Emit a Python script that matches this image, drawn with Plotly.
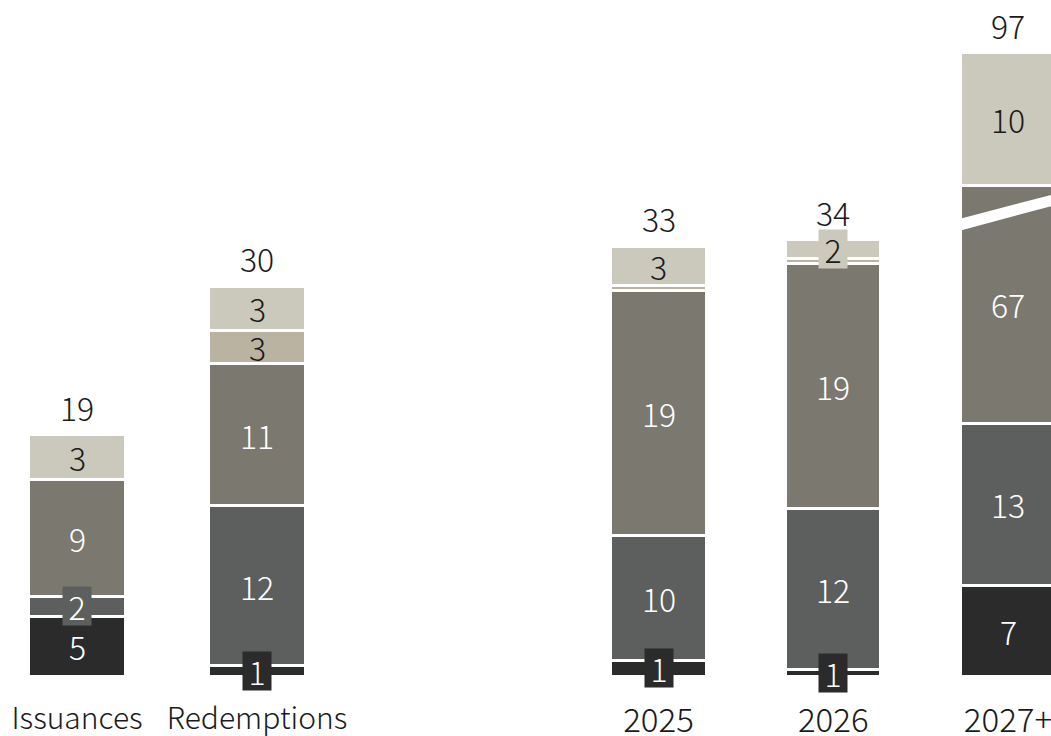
import plotly.graph_objects as go

# ---------------- data ----------------
categories = ["Issuances", "Redemptions", "2025", "2026", "2027+"]
left_cats = categories[:2]
right_cats = categories[2:]

series_names = ["s1", "s2", "s3", "s4", "s5"]
dark_values = [4.6, 0.8, 1.2, 0.5, 7.0]
darkgrey_values = [1.6, 12.4, 9.7, 12.5, 12.6]
mid_values = [9.0, 11.0, 19.0, 19.0, 67.0]
tan_values = [0.0, 2.6, 0.4, 0.4, 0.0]
beige_values = [3.5, 3.4, 3.0, 1.4, 10.3]

dark_labels = ["5", "1", "1", "1", "7"]
darkgrey_labels = ["2", "12", "10", "12", "13"]
mid_labels = ["9", "11", "19", "19", "67"]
tan_labels = ["", "3", "", "", ""]
beige_labels = ["3", "3", "3", "2", "10"]

total_labels = ["19", "30", "33", "34", "97"]

# axis break on the 2027+ bar (mid segment shown shortened)
BROKEN_CATEGORY = "2027+"
BROKEN_DISPLAY_HEIGHT = 18.4

# ---------------- style ----------------
colors = ["#2b2b2b", "#5d5f5e", "#7b7870", "#bab3a1", "#cbc9bc"]
text_colors = ["#ffffff", "#ffffff", "#ffffff", "#1a1a1a", "#1a1a1a"]
FONT = "Noto Sans CJK KR, Noto Sans, sans-serif"
FW = 300
FS = 32
W, H = 1051, 736
PLOT_BOTTOM = 676
PX_PER_UNIT = 12.9

values = [dark_values, darkgrey_values, mid_values, tan_values, beige_values]
labels = [dark_labels, darkgrey_labels, mid_labels, tan_labels, beige_labels]


def display(si, ci):
    v = values[si][ci]
    if si == 2 and categories[ci] == BROKEN_CATEGORY:
        return BROKEN_DISPLAY_HEIGHT
    return v


fig = go.Figure()
annotations = []

for si in range(5):
    for cats, xa, ya in ((left_cats, "x", "y"), (right_cats, "x2", "y2")):
        idx = [categories.index(c) for c in cats]
        fig.add_trace(go.Bar(
            x=cats,
            y=[display(si, i) for i in idx],
            name=series_names[si],
            marker=dict(color=colors[si], line=dict(color="white", width=3)),
            xaxis=xa, yaxis=ya,
            showlegend=False,
            hoverinfo="skip",
        ))

# segment labels and totals (x given as category index on its own axis)
for ci, cat in enumerate(categories):
    if cat in left_cats:
        xa, ya, xi = "x", "y", left_cats.index(cat)
    else:
        xa, ya, xi = "x2", "y2", right_cats.index(cat)
    base = 0.0
    for si in range(5):
        h = display(si, ci)
        lab = labels[si][ci]
        if lab:
            ann = dict(x=xi, y=base + h / 2, xref=xa, yref=ya, text=lab,
                       showarrow=False,
                       font=dict(family=FONT, size=FS, color=text_colors[si], weight=FW))
            if h < 2.0:
                ann.update(bgcolor=colors[si], width=28, height=38, borderpad=0)
            annotations.append(ann)
        base += h
    annotations.append(dict(x=xi, y=base, xref=xa, yref=ya, text=total_labels[ci],
                            showarrow=False, yanchor="bottom", yshift=3,
                            font=dict(family=FONT, size=FS, color="#1a1a1a", weight=FW)))

# break marker (white diagonal stripe) on 2027+ bar
shapes = [dict(
    type="path", xref="x2", yref="y2", layer="above",
    path="M 1.65 34.25 L 2.35 36.80 L 2.35 37.66 L 1.65 35.18 Z",
    fillcolor="white", line=dict(width=0),
)]

y_top = PLOT_BOTTOM / PX_PER_UNIT
left_px = (0, 400)
right_px = (540, W)
left_step = 180.0
right_step = 174.75
l_r0 = -(77 - left_px[0]) / left_step
r_r0 = -(658.5 - right_px[0]) / right_step

axis_common = dict(showgrid=False, zeroline=False, showline=False, ticks="",
                   ticklabelstandoff=22, fixedrange=True, automargin=False)

fig.update_layout(
    width=W, height=H,
    margin=dict(l=0, r=0, t=0, b=H - PLOT_BOTTOM, autoexpand=False),
    paper_bgcolor="white", plot_bgcolor="white",
    barmode="stack", bargap=0.456,
    xaxis=dict(domain=[left_px[0] / W, left_px[1] / W], type="category",
               range=[l_r0, l_r0 + (left_px[1] - left_px[0]) / left_step],
               tickfont=dict(family=FONT, size=30, color="#1a1a1a", weight=FW), **axis_common),
    xaxis2=dict(domain=[right_px[0] / W, 1], type="category", anchor="y2",
                range=[r_r0, r_r0 + (right_px[1] - right_px[0]) / right_step],
                tickfont=dict(family=FONT, size=33, color="#1a1a1a", weight=FW), **axis_common),
    yaxis=dict(range=[0, y_top], visible=False),
    yaxis2=dict(range=[0, y_top], visible=False, anchor="x2"),
    annotations=annotations,
    shapes=shapes,
    font=dict(family=FONT, weight=FW),
)

fig.write_html("out.html")
